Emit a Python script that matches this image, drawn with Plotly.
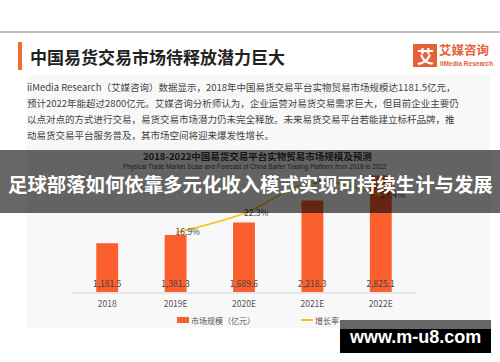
import plotly.graph_objects as go

# ---------------- data ----------------
categories = ["2018", "2019E", "2020E", "2021E", "2022E"]
market_size = [1181.5, 1381.3, 1689.6, 2218.3, 2825.1]
growth_cats = ["2019E", "2020E", "2021E", "2022E"]
growth_rate = [16.9, 22.3, 31.3, 27.4]
series_names = ["市场规模（亿元）", "增长率"]

page_title = "中国易货交易市场待释放潜力巨大"
paragraph = [
    "iiMedia Research（艾媒咨询）数据显示，2018年中国易货交易平台实物贸易市场规模达1181.5亿元，",
    "预计2022年能超过2800亿元。艾媒咨询分析师认为，企业运营对易货交易需求巨大，但目前企业主要仍",
    "以点对点的方式进行交易，易货交易市场潜力仍未完全释放。未来易货交易平台若能建立标杆品牌，推",
    "动易货交易平台服务普及，其市场空间将迎来爆发性增长。",
]
chart_title = "2018-2022中国易货交易平台实物贸易市场规模及预测"
chart_subtitle = "Physical Trade Market Scale and Forecast of China Barter Trading Platform from 2018 to 2022"
banner_text = "足球部落如何依靠多元化收入模式实现可持续生计与发展"
watermark = "www.m-u8.com"

# ---------------- helpers (pixel -> paper) ----------------
W, H = 500, 362
def X(p):
    return p / W
def Y(p):
    return (H - p) / H

CJK = "Noto Sans CJK SC"
ORANGE = "#fa5f2d"
GOLD = "#f5c315"
LOGO = "#e5613b"

fig = go.Figure()

fig.add_trace(go.Bar(
    x=categories, y=market_size, name=series_names[0],
    marker=dict(color=ORANGE, line=dict(width=0)), width=0.32,
    text=[f"{v:,.1f}" for v in market_size],
    textposition="inside", insidetextanchor="start", constraintext="none",
    textangle=0,
    insidetextfont=dict(size=8.5, color="#444", family=CJK),
    hoverinfo="skip", showlegend=False,
))
fig.add_trace(go.Scatter(
    x=growth_cats, y=growth_rate, name=series_names[1], yaxis="y2",
    mode="lines+text", line=dict(color=GOLD, width=1.6, shape="spline"),
    text=[f"{v:.1f}%" for v in growth_rate], textposition="middle right",
    textfont=dict(size=8.5, color="#444", family=CJK),
    hoverinfo="skip", showlegend=False,
))

shapes = [
    dict(type="line", xref="paper", yref="paper", x0=0, x1=1, y0=Y(32), y1=Y(32),
         line=dict(color="#808080", width=1)),
    dict(type="rect", xref="paper", yref="paper", x0=X(18), x1=X(22), y0=Y(70), y1=Y(42),
         fillcolor="#f26a36", line=dict(width=0)),
    dict(type="rect", xref="paper", yref="paper", x0=X(27), x1=X(490), y0=Y(328), y1=Y(75),
         fillcolor="#f8f8f8", line=dict(width=0), layer="below"),
    dict(type="rect", xref="paper", yref="paper", x0=X(413), x1=X(437), y0=Y(67), y1=Y(44),
         fillcolor=LOGO, line=dict(width=0)),
    # legend swatches
    dict(type="rect", xref="paper", yref="paper", x0=X(177), x1=X(189), y0=Y(323), y1=Y(317),
         fillcolor=ORANGE, line=dict(width=0)),
    dict(type="line", xref="paper", yref="paper", x0=X(301), x1=X(313), y0=Y(320), y1=Y(320),
         line=dict(color=GOLD, width=2)),
    # overlay banner
    dict(type="rect", xref="paper", yref="paper", x0=0, x1=1, y0=Y(213), y1=Y(150),
         fillcolor="rgba(0,0,0,0.6)", line=dict(width=0), layer="above"),
    # watermark box
    dict(type="rect", xref="paper", yref="paper", x0=X(340), x1=X(491), y0=Y(329), y1=Y(320),
         fillcolor="#666666", line=dict(width=0), layer="above"),
    dict(type="rect", xref="paper", yref="paper", x0=X(340), x1=X(491), y0=Y(353), y1=Y(329),
         fillcolor="#000000", line=dict(width=0), layer="above"),
]

def ann(text, x, y, size, color, anchor="left", bold=False, family=CJK, pad=1):
    return dict(text=text, x=X(x), y=Y(y), xref="paper", yref="paper",
                xanchor=anchor, yanchor="middle", showarrow=False, borderpad=pad,
                font=dict(size=size, color=color, family=family,
                          weight="bold" if bold else "normal"))

annotations = [
    ann(page_title, 28, 56, 17, "#222222", bold=True),
    ann("艾", 425, 55.5, 17, "#ffffff", anchor="center", bold=True),
    ann("艾媒咨询", 438, 49, 12.5, LOGO, bold=True, pad=0),
    ann("iiMedia Research", 439, 63.5, 6.5, LOGO, bold=True, pad=0,
        family="Liberation Sans"),
]
for i, line in enumerate(paragraph):
    annotations.append(ann(line, 25, 87 + i * 16, 9.5, "#444444"))
annotations += [
    ann(chart_title, 257, 156, 9.5, "#151515", anchor="center", bold=True),
    ann(chart_subtitle, 255, 166.5, 6.3, "#1a1a1a", anchor="center", family="Liberation Sans"),
    ann(series_names[0], 189, 320, 8, "#555555"),
    ann(series_names[1], 313, 320, 8, "#555555"),
    ann(banner_text, 250, 183, 19.4, "#ffffff", anchor="center", bold=True),
    ann(watermark, 415, 337, 18, "#ffffff", anchor="center", bold=True, family="Liberation Sans"),
]

fig.update_layout(
    width=W, height=H, autosize=False,
    margin=dict(l=0, r=0, t=0, b=0),
    paper_bgcolor="#ffffff", plot_bgcolor="rgba(0,0,0,0)",
    showlegend=False,
    xaxis=dict(domain=[X(73), X(415)], showline=True, linecolor="#e6e6e6", linewidth=2,
               showgrid=False, zeroline=False, ticks="", ticklabelstandoff=3,
               tickfont=dict(size=8.5, color="#555", family=CJK)),
    yaxis=dict(domain=[Y(292), Y(170)], range=[0, 2961], visible=False, fixedrange=True),
    yaxis2=dict(overlaying="y", range=[0, 34.66], visible=False, fixedrange=True),
    shapes=shapes,
    annotations=annotations,
)

fig.write_html("out.html", config={"displayModeBar": False},
               post_script="document.body.style.margin='0';")
